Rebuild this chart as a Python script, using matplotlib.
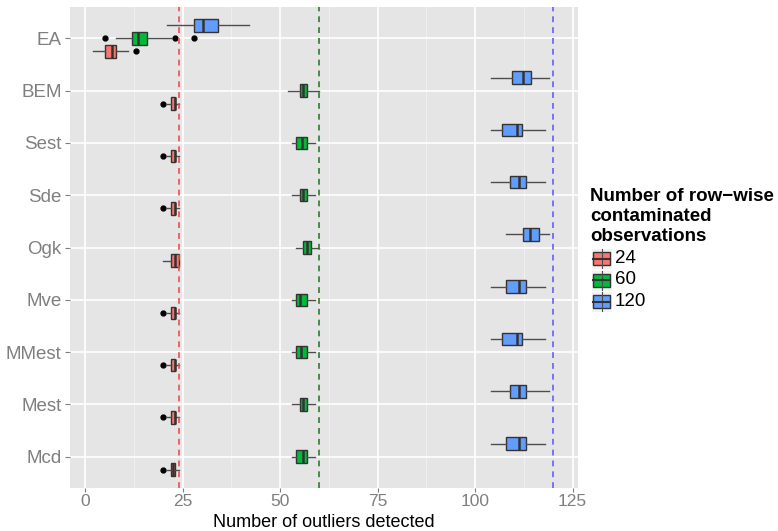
import numpy as np
import matplotlib
matplotlib.use('Agg')
import matplotlib.pyplot as plt
from matplotlib.patches import Rectangle
from matplotlib.lines import Line2D

plt.rcParams['font.family'] = ['Liberation Sans', 'DejaVu Sans']

# categories, bottom to top
methods = ['Mcd', 'Mest', 'MMest', 'Mve', 'Ogk', 'Sde', 'Sest', 'BEM', 'EA']
groups = ['24', '60', '120']
fills = ['#F8766D', '#00BA38', '#619CFF']
vline_cols = ['#F24B4B', '#2E7A2E', '#6060FF']

# box stats per group, one value per method (Mcd ... EA)
q1_24 = [22, 22, 22, 22, 22, 22, 22, 22, 5]
med_24 = [22.5, 23, 23, 23, 23, 23, 23, 23, 7]
q3_24 = [23, 23, 23, 23, 24, 23, 23, 23, 8]
lo_24 = [21, 21, 21, 21, 20, 21, 21, 21, 2]
hi_24 = [24, 24, 24, 24, 24, 24, 24, 24, 11]
out_24 = [[20], [20], [20], [20], [], [20], [20], [20], [13]]

q1_60 = [54, 55, 54, 54, 56, 55, 54, 55, 12]
med_60 = [56, 56, 55.3, 55, 57, 56, 55.6, 56, 13.7]
q3_60 = [57, 57, 57, 57, 58, 57, 57, 57, 16]
lo_60 = [53, 53, 53, 53, 54, 53, 53, 52, 8]
hi_60 = [59, 59, 59, 59, 60, 59, 59, 60, 22]
out_60 = [[], [], [], [], [], [], [], [], [5, 23, 28]]

q1_120 = [108, 109, 107, 108, 112.4, 109, 107, 109.4, 28]
med_120 = [111.3, 111.3, 110.7, 111.3, 114.1, 111.3, 110.7, 112.3, 30.2]
q3_120 = [113, 113, 112, 113, 116.3, 113, 112, 114.3, 34]
lo_120 = [104, 104, 104, 104, 108, 104, 104, 104, 21]
hi_120 = [118, 119, 118, 118, 119, 118, 118, 119, 42]
out_120 = [[], [], [], [], [], [], [], [], []]

true_counts = [24, 60, 120]

stats = [
    (q1_24, med_24, q3_24, lo_24, hi_24, out_24),
    (q1_60, med_60, q3_60, lo_60, hi_60, out_60),
    (q1_120, med_120, q3_120, lo_120, hi_120, out_120),
]

fig = plt.figure(figsize=(7.78, 5.31), dpi=100)
ax = fig.add_axes([70 / 778, 1 - 488 / 531, 508 / 778, 481 / 531])
ax.set_facecolor('#E5E5E5')

# grid
for x in np.arange(12.5, 126, 25):
    ax.axvline(x, color='#F2F2F2', lw=0.6, zorder=0)
for x in np.arange(0, 126, 25):
    ax.axvline(x, color='white', lw=1.2, zorder=0)
for y in range(1, len(methods) + 1):
    ax.axhline(y, color='white', lw=1.2, zorder=0)

offsets = [-0.25, 0.0, 0.25]
for g, (q1, med, q3, lo, hi, out) in enumerate(stats):
    bx = []
    for i in range(len(methods)):
        bx.append(dict(q1=q1[i], med=med[i], q3=q3[i], whislo=lo[i],
                       whishi=hi[i], fliers=out[i]))
    pos = [i + 1 + offsets[g] for i in range(len(methods))]
    ax.bxp(bx, positions=pos, widths=0.24, vert=False, patch_artist=True,
           showcaps=False, manage_ticks=False,
           boxprops=dict(facecolor=fills[g], edgecolor='#333333', lw=1.0),
           medianprops=dict(color='#333333', lw=1.8),
           whiskerprops=dict(color='#4D4D4D', lw=1.0),
           flierprops=dict(marker='o', markerfacecolor='black',
                           markeredgecolor='black', markersize=3.5))

for g in range(3):
    ax.axvline(true_counts[g], color=vline_cols[g], lw=1.2, ls=(0, (3.5, 3)), zorder=5)

ax.set_xlim(-3.85, 126.4)
ax.set_ylim(0.4, 9.6)
ax.set_xticks([0, 25, 50, 75, 100, 125])
ax.set_yticks(range(1, len(methods) + 1))
ax.set_yticklabels(methods)
ax.tick_params(axis='both', colors='#7F7F7F', labelcolor='#7F7F7F',
               labelsize=13.5, length=3.5, width=0.8, pad=2.5)
ax.tick_params(axis='x', labelsize=12.5, length=3, pad=1)
for s in ax.spines.values():
    s.set_visible(False)

# legend
def fx(px):
    return px / 778

def fy(py):
    return 1 - py / 531

# x axis title, placed by hand so it clears the tick labels
fig.text(fx(324), fy(527), 'Number of outliers detected', fontsize=13,
         ha='center', va='baseline')

title_lines = ['Number of row\u2212wise', 'contaminated', 'observations']
for k, t in enumerate(title_lines):
    fig.text(fx(590), fy(201 + k * 20), t, fontsize=13.5, fontweight='bold',
             va='baseline', ha='left')
key_y = [258.5, 280, 301.5]
for g in range(3):
    cy = key_y[g]
    fig.patches.append(Rectangle((fx(591), fy(cy + 10.5)), 21 / 778, 21 / 531,
                                 transform=fig.transFigure, facecolor='#F2F2F2',
                                 edgecolor='white', lw=0.8))
    fig.lines.append(Line2D([fx(601.5), fx(601.5)], [fy(cy - 9.5), fy(cy + 9.5)],
                            transform=fig.transFigure, color='#4D4D4D', lw=0.8))
    fig.patches.append(Rectangle((fx(593), fy(cy + 6.5)), 17 / 778, 13 / 531,
                                 transform=fig.transFigure, facecolor=fills[g],
                                 edgecolor='#333333', lw=1.0))
    fig.lines.append(Line2D([fx(593), fx(610)], [fy(cy), fy(cy)],
                            transform=fig.transFigure, color='#333333', lw=1.5))
    fig.text(fx(615), fy(cy), groups[g], fontsize=13.5, va='center', ha='left')

fig.savefig('out.png', dpi=100)
